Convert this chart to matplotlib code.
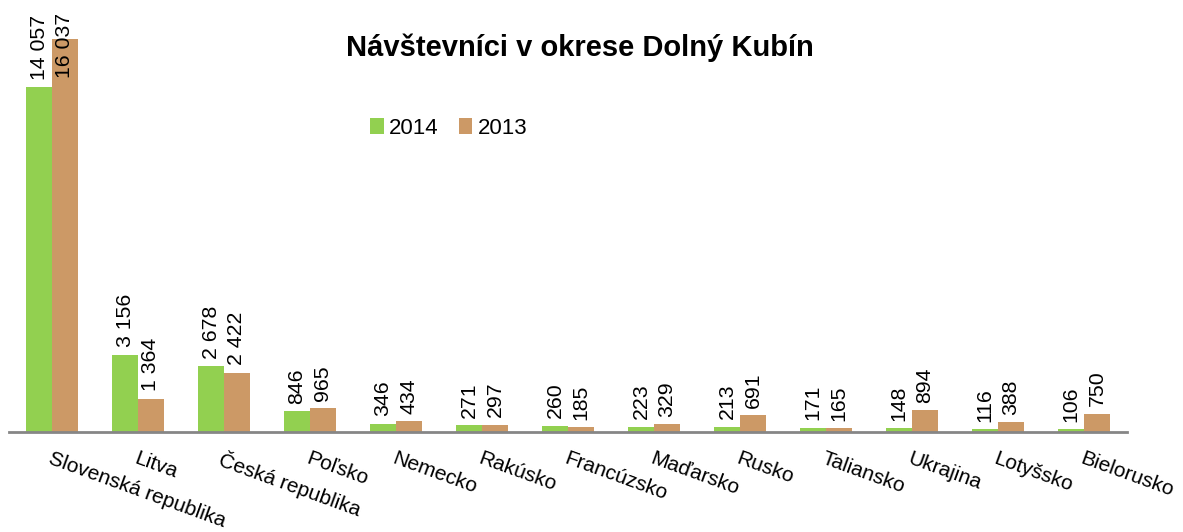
import numpy as np
import matplotlib.pyplot as plt

plt.rcParams['font.family'] = ['Liberation Sans', 'DejaVu Sans']

#data
countries = ["Slovenská republika", "Litva", "Česká republika", "Poľsko", "Nemecko",
             "Rakúsko", "Francúzsko", "Maďarsko", "Rusko", "Taliansko",
             "Ukrajina", "Lotyšsko", "Bielorusko"]
v2014 = [14057, 3156, 2678, 846, 346, 271, 260, 223, 213, 171, 148, 116, 106]
v2013 = [16037, 1364, 2422, 965, 434, 297, 185, 329, 691, 165, 894, 388, 750]

green = "#92D050"
brown = "#CC9966"

def fmt(v):
    return "{:,}".format(v).replace(",", " ")

fig = plt.figure(figsize=(11.83, 5.32), dpi=100)
ax = fig.add_axes([9/1183, 100/532, 1118/1183, 432/532])

x = np.arange(len(countries))
w = 0.3
ymax = 17620
ax.bar(x - w/2, v2014, w, color=green, label="2014")
ax.bar(x + w/2, v2013, w, color=brown, label="2013")
ax.set_xlim(-0.5, len(countries) - 0.5)
ax.set_ylim(0, ymax)

#value labels above the bars, pushed down when there is no room
pad = 300
top = 14450
for xs, vals in [(x - w/2, v2014), (x + w/2, v2013)]:
    for xi, v in zip(xs, vals):
        ax.text(xi, min(v + pad, top), fmt(v), rotation=90, ha="center",
                va="bottom", fontsize=15.3)

#axes styling
for s in ["top", "right", "left"]:
    ax.spines[s].set_visible(False)
ax.spines["bottom"].set_color("#868686")
ax.spines["bottom"].set_linewidth(2)
ax.set_yticks([])
ax.set_xticks(x)
ax.set_xticklabels(countries, rotation=-20, ha="left", va="top",
                   rotation_mode="anchor", fontsize=15)
ax.tick_params(axis="x", length=0, pad=12)

fig.text(0.49, 1 - 48/532, "Návštevníci v okrese Dolný Kubín", ha="center",
         va="center", fontsize=21, fontweight="bold")

fig.legend(loc="center", bbox_to_anchor=(449/1183, 1 - 128/532), ncol=2,
           frameon=False, fontsize=16, handlelength=0.6, handleheight=0.7,
           handletextpad=0.25, columnspacing=0.9)

fig.savefig("out.png", dpi=100)
